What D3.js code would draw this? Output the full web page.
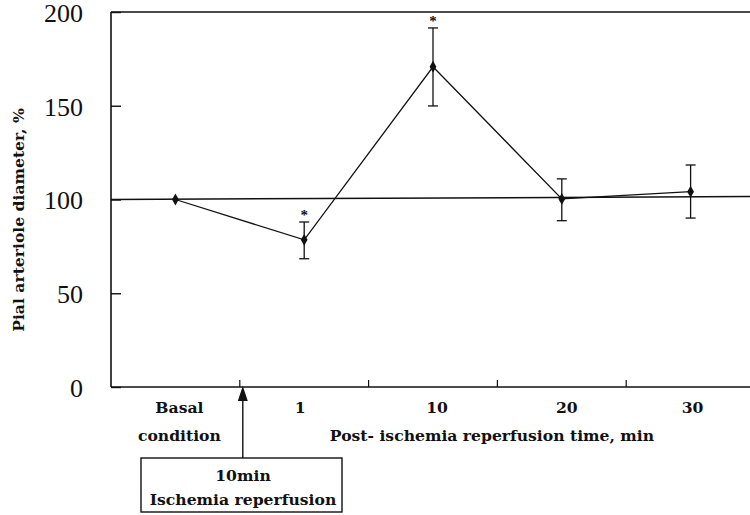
<!DOCTYPE html>
<html>
<head>
<meta charset="utf-8">
<script src="https://cdn.jsdelivr.net/npm/d3@7"></script>
<style>
html,body{margin:0;padding:0;background:#fff;}
svg{display:block;}
text{font-family:"Liberation Serif","Times New Roman",serif;fill:#111;}
</style>
</head>
<body>
<svg id="chart" width="750" height="515"></svg>
<script>
// ---- data ----
const categories = ["Basal condition", "1", "10", "20", "30"];
const means      = [100, 78.5, 170.8, 100.3, 104.2];
const errUpper   = [100, 88, 191.5, 111, 118.4];
const errLower   = [100, 68.4, 149.9, 88.7, 90.1];
const significant = [false, true, true, false, false];
const yTicks = [0, 50, 100, 150, 200];
const referenceValue = 100;

(function () {
// ---- layout ----
const svg = d3.select("#chart");
const pLeft = 111, pRight = 755, pTop = 12, pBottom = 387;

const x = d3.scaleBand().domain(categories).range([pLeft, pRight]).padding(0);
const y = d3.scaleLinear().domain([0, 200]).range([pBottom, pTop]);
const cx = d => x(d) + x.bandwidth() / 2;

const ink = "#111";
const labelFont = '"DejaVu Serif", serif';
const labelSize = "15.6px";
const labelNudge = [4, -4, 4, 5, 2];

// frame (left, top, bottom)
svg.append("line").attr("x1", pLeft).attr("x2", pLeft).attr("y1", y(200)).attr("y2", y(0))
  .attr("stroke", ink).attr("stroke-width", 1.6);
svg.append("line").attr("x1", pLeft).attr("x2", 760).attr("y1", y(200)).attr("y2", y(200))
  .attr("stroke", ink).attr("stroke-width", 1.6);
svg.append("line").attr("x1", pLeft).attr("x2", 760).attr("y1", y(0)).attr("y2", y(0))
  .attr("stroke", ink).attr("stroke-width", 1.6);

// y axis ticks (inward) and labels
const yAxis = d3.axisLeft(y).tickValues(yTicks).tickSize(-10).tickPadding(28).tickFormat(d3.format("d"));
const gy = svg.append("g").attr("transform", `translate(${pLeft},0)`).call(yAxis);
gy.select(".domain").remove();
gy.selectAll(".tick line").attr("stroke", ink).attr("stroke-width", 1.4);
gy.selectAll(".tick text").style("font-family", '"Liberation Serif", serif')
  .style("font-size", "26px").attr("fill", ink).attr("dy", "0.36em");

// x axis ticks at band boundaries (inward)
const boundaries = categories.slice(1).map(c => x(c)).concat([pRight]);
svg.selectAll(".xtick").data(boundaries).enter().append("line")
  .attr("x1", d => d).attr("x2", d => d)
  .attr("y1", y(0)).attr("y2", y(0) - 7)
  .attr("stroke", ink).attr("stroke-width", 1.2);

// reference line at 100
svg.append("line").attr("x1", pLeft).attr("x2", 760)
  .attr("y1", y(referenceValue)).attr("y2", y(referenceValue) - 3)
  .attr("stroke", ink).attr("stroke-width", 1.5);

// data line
const line = d3.line().x((d, i) => cx(categories[i])).y(d => y(d));
svg.append("path").datum(means).attr("d", line)
  .attr("fill", "none").attr("stroke", ink).attr("stroke-width", 1.3);

// error bars
const capW = 5;
categories.forEach((c, i) => {
  if (errUpper[i] === errLower[i]) return;
  const g = svg.append("g").attr("stroke", ink).attr("stroke-width", 1.3);
  g.append("line").attr("x1", cx(c)).attr("x2", cx(c)).attr("y1", y(errUpper[i])).attr("y2", y(errLower[i]));
  g.append("line").attr("x1", cx(c) - capW).attr("x2", cx(c) + capW).attr("y1", y(errUpper[i])).attr("y2", y(errUpper[i]));
  g.append("line").attr("x1", cx(c) - capW).attr("x2", cx(c) + capW).attr("y1", y(errLower[i])).attr("y2", y(errLower[i]));
});

// markers
const diamond = d3.symbol().type(d3.symbolDiamond).size(40);
svg.selectAll(".pt").data(means).enter().append("path")
  .attr("d", diamond)
  .attr("transform", (d, i) => `translate(${cx(categories[i])},${y(d)})`)
  .attr("fill", ink);

// significance stars
svg.selectAll(".star").data(means.map((d, i) => i).filter(i => significant[i])).enter().append("text")
  .attr("x", i => cx(categories[i])).attr("y", i => y(errUpper[i]) - 2)
  .attr("text-anchor", "middle").style("font-size", "15px").style("font-weight", "bold")
  .text("*");

// x category labels
categories.forEach((c, i) => {
  const lx = cx(c) + labelNudge[i];
  if (i === 0) {
    const t = svg.append("text").attr("x", lx).attr("y", 413).attr("text-anchor", "middle")
      .style("font-size", labelSize).style("font-weight", "bold").style("font-family", labelFont);
    t.append("tspan").attr("x", lx).attr("dy", 0).text("Basal");
    t.append("tspan").attr("x", lx).attr("y", 441).text("condition");
  } else {
    svg.append("text").attr("x", lx).attr("y", 413).attr("text-anchor", "middle")
      .style("font-size", labelSize).style("font-weight", "bold").style("font-family", labelFont).text(c);
  }
});

// x axis title
svg.append("text").attr("x", 492).attr("y", 441).attr("text-anchor", "middle")
  .style("font-size", labelSize).style("font-weight", "bold").style("font-family", labelFont)
  .text("Post- ischemia reperfusion time, min");

// y axis title
svg.append("text").attr("transform", "translate(24,220) rotate(-90)").attr("text-anchor", "middle")
  .style("font-size", labelSize).style("font-weight", "bold").style("font-family", labelFont)
  .text("Pial arteriole diameter, %");

// ischemia arrow and box
const arrowX = x(categories[1]) + 3;
svg.append("line").attr("x1", arrowX).attr("x2", arrowX).attr("y1", 458).attr("y2", 398)
  .attr("stroke", ink).attr("stroke-width", 1.4);
svg.append("path").attr("d", `M${arrowX},386 L${arrowX - 5},401 L${arrowX + 5},401 Z`).attr("fill", ink);
svg.append("rect").attr("x", 141).attr("y", 458).attr("width", 201).attr("height", 54)
  .attr("fill", "none").attr("stroke", ink).attr("stroke-width", 1.4);
svg.append("text").attr("x", 243).attr("y", 481).attr("text-anchor", "middle")
  .style("font-size", labelSize).style("font-weight", "bold").style("font-family", labelFont).text("10min");
svg.append("text").attr("x", 243).attr("y", 505).attr("text-anchor", "middle")
  .style("font-size", labelSize).style("font-weight", "bold").style("font-family", labelFont).text("Ischemia reperfusion");
})();
</script>
</body>
</html>
